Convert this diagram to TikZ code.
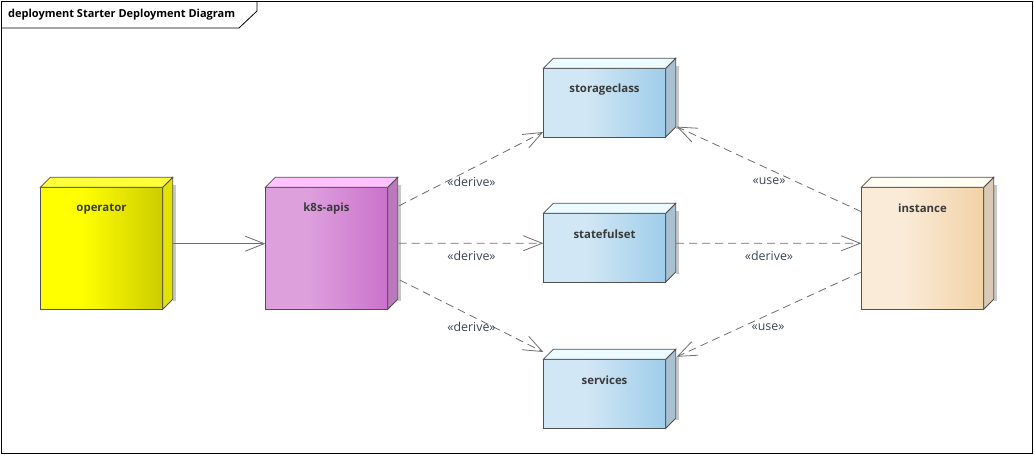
\documentclass[tikz,border=0pt]{standalone}
\usepackage{fontspec}
\setmainfont{Open Sans}
\usetikzlibrary{arrows.meta,calc}
\definecolor{opL}{HTML}{FFFF00}\definecolor{opR}{HTML}{CCCC00}
\definecolor{opT}{HTML}{FFFF3A}\definecolor{opS}{HTML}{E3E300}
\definecolor{kL}{HTML}{DDA0DD}\definecolor{kR}{HTML}{CB72CB}
\definecolor{kT}{HTML}{FFC2FF}\definecolor{kS}{HTML}{BC78BC}
\definecolor{bL}{HTML}{D2E7F5}\definecolor{bR}{HTML}{9FCDEA}
\definecolor{bT}{HTML}{ECFBFF}\definecolor{bS}{HTML}{A9C0D0}
\definecolor{iL}{HTML}{FAEBD8}\definecolor{iR}{HTML}{F2D2A6}
\definecolor{iT}{HTML}{FFFDF2}\definecolor{iS}{HTML}{D9C9B5}
\definecolor{edgec}{HTML}{6E6E6E}
\definecolor{outl}{HTML}{505050}
\definecolor{shadowc}{HTML}{C8C8C8}
\definecolor{txtc}{HTML}{3A3A3A}
\definecolor{lblc}{HTML}{3C4656}
\pgfdeclarehorizontalshading{opsh}{100bp}{color(0bp)=(opL); color(25bp)=(opL); color(42bp)=(opL); color(75bp)=(opR); color(100bp)=(opR)}
\pgfdeclarehorizontalshading{ksh}{100bp}{color(0bp)=(kL); color(25bp)=(kL); color(42bp)=(kL); color(75bp)=(kR); color(100bp)=(kR)}
\pgfdeclarehorizontalshading{bsh}{100bp}{color(0bp)=(bL); color(25bp)=(bL); color(42bp)=(bL); color(75bp)=(bR); color(100bp)=(bR)}
\pgfdeclarehorizontalshading{ish}{100bp}{color(0bp)=(iL); color(25bp)=(iL); color(42bp)=(iL); color(75bp)=(iR); color(100bp)=(iR)}
\tikzset{
  boxline/.style={draw=outl, line width=0.8pt, line join=miter},
  boxface/.style={boxline, rectangle, inner sep=0pt, outer sep=0pt},
  boxtext/.style={font=\fontsize{11.4}{13}\selectfont\bfseries, text=txtc, inner sep=0pt},
  edgelbl/.style={font=\fontsize{12.4}{14}\selectfont, text=lblc, inner sep=0pt},
  conn/.style={draw=edgec, line width=0.8pt, -{Straight Barb[length=19pt,width=15pt,line width=0.8pt]}},
  dconn/.style={conn, dash pattern=on 8pt off 5pt},
}
\newcommand\depbox[8]{%
  \node[boxface, shading=#5, minimum width=#3 pt, minimum height=#4 pt, anchor=north west] (#1) at #2 {};
  \fill[shadowc] ([shift={(10,-2)}]#1.north east) rectangle ([shift={(13,-8)}]#1.south east);
  \draw[boxline, fill=#7] (#1.north east) -- ([shift={(10,-10)}]#1.north east) -- ([shift={(10,-10)}]#1.south east) -- (#1.south east) -- cycle;
  \draw[boxline, fill=#6] (#1.north west) -- ([shift={(10,-10)}]#1.north west) -- ([shift={(10,-10)}]#1.north east) -- (#1.north east) -- cycle;
  \node[boxtext] (#1-t) at ([shift={(0,21.3)}]#1.north) {#8};
}
\begin{document}
\begin{tikzpicture}[x=1pt,y=-1pt]
\useasboundingbox (0,0) rectangle (1034,455);
% frame
\draw[draw=black, line width=0.8pt] (1,1) rectangle (1032.5,453.5);
\draw[draw=black, line width=0.8pt] (1,28) -- (239,28) -- (257,11) -- (257,1);
\node[anchor=west, font=\fontsize{11}{13}\selectfont\bfseries, inner sep=0pt] (title) at (8,14.5) {deployment Starter Deployment Diagram};
% boxes
\depbox{op}{(40.3,187.3)}{122.4}{122}{opsh}{opT}{opS}{operator}
\depbox{k8s}{(265.3,187.3)}{122.4}{122}{ksh}{kT}{kS}{k8s-apis}
\depbox{sc}{(543.3,68.3)}{122.4}{68.7}{bsh}{bT}{bS}{storageclass}
\depbox{ss}{(543.3,213.3)}{122.4}{68.7}{bsh}{bT}{bS}{statefulset}
\depbox{sv}{(543.3,359.3)}{122.4}{69}{bsh}{bT}{bS}{services}
\depbox{inst}{(861.3,187.3)}{122.4}{122}{ish}{iT}{iS}{instance}
% connectors
\draw[conn] ([shift={(10,-4.6)}]op.east) -- ([shift={(0,-4.6)}]k8s.west);
\draw[dconn] ([shift={(11,-42.3)}]k8s.east) -- ([shift={(0,-5)}]sc.south west);
\draw[dconn] ([shift={(11,-5)}]k8s.east) -- ([shift={(0,-4.4)}]ss.west);
\draw[dconn] ([shift={(12,31.7)}]k8s.east) -- ([shift={(0,-7.3)}]sv.north west);
\draw[dconn] ([shift={(0,-36.6)}]inst.west) -- ([shift={(11,24)}]sc.east);
\draw[dconn] ([shift={(10.3,-4.4)}]ss.east) -- ([shift={(0,-5)}]inst.west);
\draw[dconn] ([shift={(0,23.7)}]inst.west) -- ([shift={(11,-37)}]sv.east);
% labels
\node[edgelbl] (l1) at (471.5,182) {«derive»};
\node[edgelbl] (l2) at (471.5,256) {«derive»};
\node[edgelbl] (l3) at (471.5,327) {«derive»};
\node[edgelbl] (l4) at (769,181) {«use»};
\node[edgelbl] (l5) at (769,256) {«derive»};
\node[edgelbl] (l6) at (768,327) {«use»};
\end{tikzpicture}
\end{document}
